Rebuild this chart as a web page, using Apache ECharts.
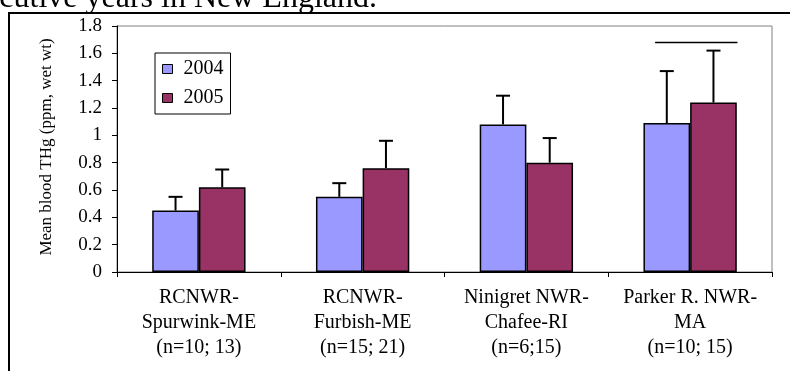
<!DOCTYPE html>
<html>
<head>
<meta charset="utf-8">
<script src="https://cdn.jsdelivr.net/npm/echarts@6/dist/echarts.min.js"></script>
<style>
html,body{margin:0;padding:0;background:#fff;}
#chart{width:790px;height:371px;}
</style>
</head>
<body>
<div id="chart"></div>
<script>
// ---- data ----
const categories = [
  'RCNWR-\nSpurwink-ME\n(n=10; 13)',
  'RCNWR-\nFurbish-ME\n(n=15; 21)',
  'Ninigret NWR-\nChafee-RI\n(n=6;15)',
  'Parker R. NWR-\nMA\n(n=10; 15)'
];
const seriesNames = ['2004', '2005'];
const values2004 = [0.45, 0.55, 1.08, 1.09];
const values2005 = [0.62, 0.76, 0.80, 1.24];
const errors2004 = [0.10, 0.10, 0.21, 0.38];
const errors2005 = [0.13, 0.20, 0.18, 0.38];
const yTicks = { min: 0, max: 1.8, interval: 0.2 };
const sigLine = [[3, 1.68]];
const yTitle = 'Mean blood THg (ppm, wet wt)';
const topText = 'consecutive years in New England.';

const FONT = '"Liberation Serif", "Times New Roman", serif';
const BAR_FRACTION = 0.57; // 1 - barCategoryGap

const errData = [];
values2004.forEach((v, i) => errData.push([i, v, errors2004[i], -1]));
values2005.forEach((v, i) => errData.push([i, v, errors2005[i], 1]));

const chart = echarts.init(document.getElementById('chart'), null, { renderer: 'canvas' });
chart.setOption({
  animation: false,
  backgroundColor: '#ffffff',
  grid: { left: 117, right: 18, top: 26, bottom: 99, show: true, borderColor: '#808080', borderWidth: 1, backgroundColor: 'transparent' },
  legend: {
    data: seriesNames,
    orient: 'vertical',
    left: 155, top: 53,
    padding: [6, 7, 6, 7],
    itemGap: 9,
    itemWidth: 10, itemHeight: 9,
    icon: 'rect',
    borderColor: '#000', borderWidth: 1,
    backgroundColor: '#fff',
    itemStyle: { borderColor: '#000', borderWidth: 1 },
    textStyle: { fontFamily: FONT, fontSize: 20, color: '#000', padding: [0, 0, 0, 6] }
  },
  xAxis: {
    type: 'category',
    data: categories,
    axisLine: { lineStyle: { color: '#000', width: 1 } },
    axisTick: { show: true, alignWithLabel: false, length: 5, lineStyle: { color: '#000' } },
    axisLabel: { interval: 0, margin: 13, fontFamily: FONT, fontSize: 20, color: '#000', lineHeight: 25 },
    splitLine: { show: false }
  },
  yAxis: {
    type: 'value',
    min: yTicks.min, max: yTicks.max, interval: yTicks.interval,
    axisLine: { show: true, lineStyle: { color: '#000', width: 1 } },
    axisTick: { show: true, length: 5, lineStyle: { color: '#000' } },
    axisLabel: { margin: 15, fontFamily: FONT, fontSize: 19, color: '#000' },
    splitLine: { show: false }
  },
  graphic: [
    { type: 'rect', shape: { x: 9, y: 13, width: 1000, height: 600 }, style: { fill: 'none', stroke: '#000', lineWidth: 2 }, silent: true, z: 0 },
    { type: 'text', x: 47, y: 147, rotation: Math.PI / 2,
      style: { text: yTitle, fontFamily: FONT, fontSize: 17, fill: '#000', textAlign: 'center', textVerticalAlign: 'middle' } },
    { type: 'text', x: 377, y: 15,
      style: { text: topText, fontFamily: FONT, fontSize: 32, fill: '#000', textAlign: 'right', textVerticalAlign: 'bottom' } }
  ],
  series: [
    {
      name: seriesNames[0], type: 'bar', data: values2004,
      barGap: '0%', barCategoryGap: '43%',
      itemStyle: { color: '#9999FF', borderColor: '#000', borderWidth: 1.5 }
    },
    {
      name: seriesNames[1], type: 'bar', data: values2005,
      barGap: '0%', barCategoryGap: '43%',
      itemStyle: { color: '#993366', borderColor: '#000', borderWidth: 1.5 }
    },
    {
      name: 'err', type: 'custom', data: errData, encode: { x: 0, y: 1 }, z: 5,
      renderItem: function (params, api) {
        const band = api.size([1, 0])[0];
        const bw = band * BAR_FRACTION / 2;
        const base = api.coord([api.value(0), api.value(1)]);
        const top = api.coord([api.value(0), api.value(1) + api.value(2)]);
        const x = base[0] + api.value(3) * bw / 2;
        return {
          type: 'group',
          children: [
            { type: 'line', shape: { x1: x, y1: base[1], x2: x, y2: top[1] }, style: { stroke: '#000', lineWidth: 2 } },
            { type: 'line', shape: { x1: x - 7, y1: top[1], x2: x + 7, y2: top[1] }, style: { stroke: '#000', lineWidth: 2 } }
          ]
        };
      }
    },
    {
      name: 'sig', type: 'custom', data: sigLine, encode: { x: 0, y: 1 }, z: 5,
      renderItem: function (params, api) {
        const band = api.size([1, 0])[0];
        const c = api.coord([api.value(0), api.value(1)]);
        return { type: 'line', shape: { x1: c[0] - 0.214 * band, y1: c[1], x2: c[0] + 0.289 * band, y2: c[1] }, style: { stroke: '#000', lineWidth: 1.5 } };
      }
    }
  ]
});
</script>
</body>
</html>
